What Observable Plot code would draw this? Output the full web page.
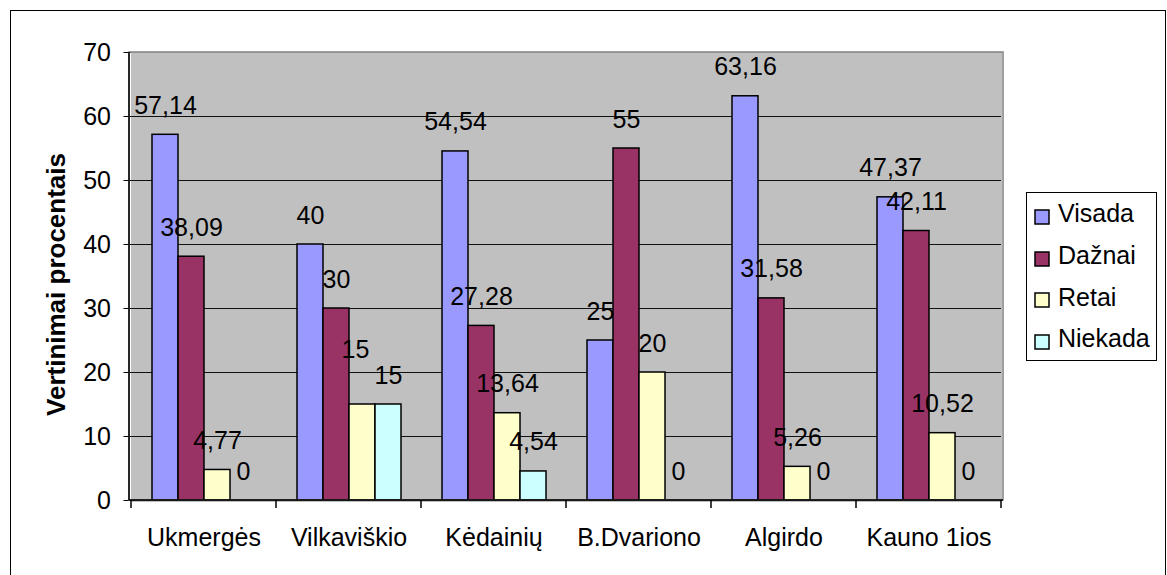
<!DOCTYPE html>
<html>
<head>
<meta charset="utf-8">
<script src="https://cdn.jsdelivr.net/npm/d3@7"></script>
<script src="https://cdn.jsdelivr.net/npm/@observablehq/plot@0.6"></script>
<style>
html,body{margin:0;padding:0;background:#fff;overflow:hidden;}
#wrap{position:relative;width:1167px;height:575px;font-family:"Liberation Sans",Arial,sans-serif;}
#border{position:absolute;left:10px;top:10px;width:1156px;height:640px;border:1.5px solid #000;box-sizing:border-box;pointer-events:none;}
#legend{position:absolute;left:1026px;top:192px;width:131px;height:169px;border:1px solid #000;box-sizing:border-box;background:#fff;padding:0 0 0 8px;overflow:hidden;}
#legend .lg-swatches{font-family:"Liberation Sans",Arial,sans-serif !important;font-size:25px !important;margin:0 !important;color:#000;}
#legend .lg-swatch{display:flex !important;align-items:center !important;height:41.7px !important;margin:0 !important;padding:0 !important;}
#legend .lg-swatch svg{margin:6px 9px 0 0 !important;overflow:visible !important;flex:none;}
#legend .lg-swatch svg rect{stroke:#000;stroke-width:1.5px;}
</style>
</head>
<body>
<div id="wrap">
  <div id="chart"></div>
  <div id="legend"></div>
  <div id="border"></div>
</div>
<script>
// ---- data ----
const schools = ["Ukmergės", "Vilkaviškio", "Kėdainių", "B.Dvariono", "Algirdo", "Kauno 1ios"];
const series = ["Visada", "Dažnai", "Retai", "Niekada"];
const visada  = [57.14, 40, 54.54, 25, 63.16, 47.37];
const daznai  = [38.09, 30, 27.28, 55, 31.58, 42.11];
const retai   = [4.77, 15, 13.64, 20, 5.26, 10.52];
const niekada = [0, 15, 4.54, 0, 0, 0];
const yTicks = [0, 10, 20, 30, 40, 50, 60, 70];
const colors = ["#9999ff", "#993366", "#ffffcc", "#ccffff"];

const valuesBySeries = [visada, daznai, retai, niekada];
const rows = [];
schools.forEach((s, i) => {
  series.forEach((k, j) => {
    const v = valuesBySeries[j][i];
    const next = j < series.length - 1 ? valuesBySeries[j + 1][i] : null;
    // a label whose right neighbour sits at the same height is lifted to avoid overlap
    rows.push({school: s, series: k, value: v, label: String(v).replace(".", ","), clash: next !== null && next === v && v > 0});
  });
});

const font = "'Liberation Sans', Arial, sans-serif";

const chart = Plot.plot({
  width: 1167,
  height: 575,
  marginLeft: 129,
  marginRight: 164,
  marginTop: 52,
  marginBottom: 75,
  style: {fontFamily: font, fontSize: "25px", color: "#000", background: "transparent", overflow: "visible"},
  fx: {domain: schools, padding: 0, axis: "bottom", tickSize: 0, tickPadding: 28, label: null},
  x: {domain: series, paddingInner: 0, paddingOuter: 0.74, axis: null},
  y: {domain: [0, 70], ticks: yTicks, tickSize: 7.5, tickPadding: 13, label: null, tickFormat: d => String(d)},
  color: {domain: series, range: colors},
  marks: [
    Plot.frame({fill: "#c0c0c0", stroke: "#c0c0c0", strokeWidth: 1}),
    Plot.ruleY(yTicks.filter(v => v > 0 && v < 70), {stroke: "#111", strokeWidth: 1}),
    Plot.barY(rows, {fx: "school", x: "series", y: "value", fill: "series", stroke: "#000", strokeWidth: 1.5}),
    Plot.ruleY([0], {stroke: "#000", strokeWidth: 1.5}),
    Plot.text(rows.filter(d => !d.clash), {fx: "school", x: "series", y: "value", text: "label", lineAnchor: "bottom", dy: -21, fontSize: 25, fill: "#000"}),
    Plot.text(rows.filter(d => d.clash), {fx: "school", x: "series", y: "value", text: "label", lineAnchor: "bottom", dy: -47, dx: -7, fontSize: 25, fill: "#000"}),
    Plot.text(["Vertinimai procentais"], {fx: () => schools[0], text: d => d, frameAnchor: "left", textAnchor: "middle", rotate: -90, dx: -75, dy: 8, fontSize: 26, fontWeight: "bold", fill: "#000"})
  ]
});

document.getElementById("chart").appendChild(chart);

// plot-area border, left axis line and category separator ticks, from Plot's own scales
const svgEl = chart.tagName.toLowerCase() === "svg" ? chart : chart.querySelector("svg");
const fxs = chart.scale("fx");
const ys = chart.scale("y");
const [fx0, fx1] = [d3.min(fxs.range), d3.max(fxs.range)];
const yb = ys.apply(0), yt = ys.apply(70);
const g = d3.select(svgEl).append("g");
g.append("rect").attr("x", fx0).attr("y", yt).attr("width", fx1 - fx0).attr("height", yb - yt)
  .attr("fill", "none").attr("stroke", "#808080").attr("stroke-width", 1.5);
g.append("line").attr("x1", fx0).attr("x2", fx0).attr("y1", yt).attr("y2", yb)
  .attr("stroke", "#000").attr("stroke-width", 1.5);
g.append("line").attr("x1", fx0).attr("x2", fx1).attr("y1", yb).attr("y2", yb)
  .attr("stroke", "#000").attr("stroke-width", 1.5);
const sepX = schools.map(s => fxs.apply(s)).concat([fxs.apply(schools[schools.length - 1]) + fxs.bandwidth]);
g.selectAll("line.sep").data(sepX).join("line").attr("class", "sep")
  .attr("x1", d => d).attr("x2", d => d).attr("y1", yb).attr("y2", yb + 8)
  .attr("stroke", "#000").attr("stroke-width", 1.5);

// legend
const leg = chart.legend("color", {columns: 1, swatchSize: 14, className: "lg"});
document.getElementById("legend").appendChild(leg);
</script>
</body>
</html>
